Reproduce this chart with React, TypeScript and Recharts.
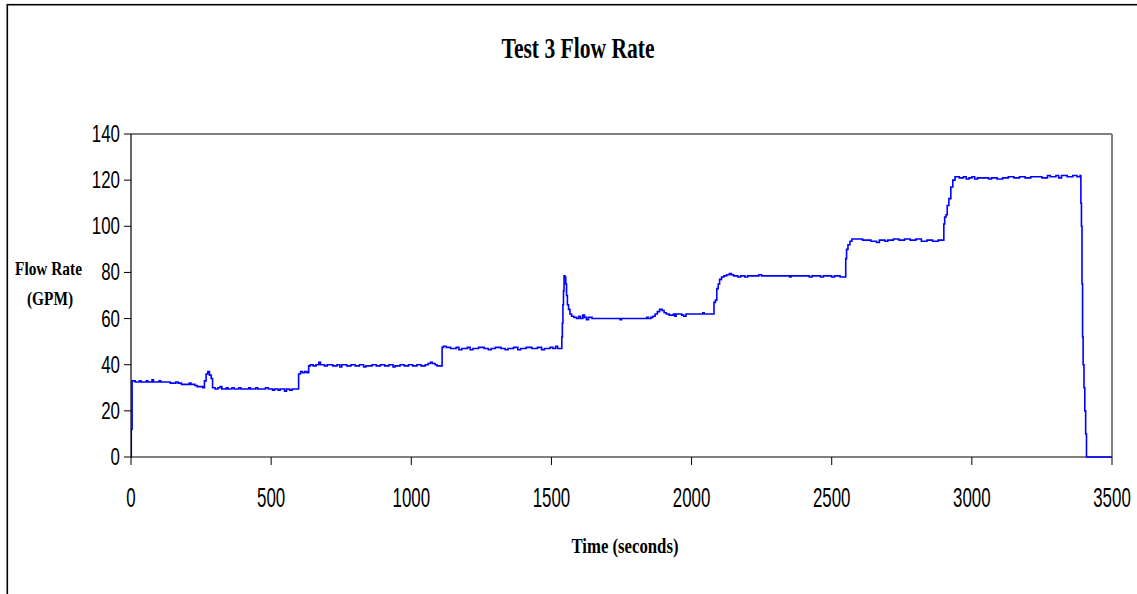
import React from "react";
import { LineChart, Line, XAxis, YAxis, ReferenceLine } from "recharts";

// [time (s), flow rate (GPM)] readings, grouped by test stage
const stageStart: [number, number][] = [
  [0, 0], [1, 12], [4, 33], [15, 32.5], [30, 33], [36, 32.5], [55, 33], [60, 32.5], [75, 33.5], [80, 32.5],
  [100, 33], [106, 32.5], [125, 32.5], [140, 32], [160, 32.5], [168, 32], [180, 31.5], [200, 31.5], [208, 32],
  [214, 31.5], [228, 31], [236, 30.5], [250, 30.5], [256, 30], [262, 33], [268, 36], [274, 37], [280, 35.5],
  [286, 34], [291, 30], [300, 29.5], [310, 30], [318, 30.5], [324, 29.5], [340, 30], [346, 29.5], [360, 30],
  [368, 29.5], [385, 30], [392, 29.5], [410, 29.5], [420, 30], [426, 29.5], [445, 30], [452, 29.5], [470, 29.5],
  [480, 30], [490, 29.5], [505, 29], [512, 29.5], [525, 29], [532, 29.5], [548, 28.5], [555, 29.5], [566, 29],
  [575, 29.5], [590, 29.5],
];
const stage40: [number, number][] = [
  [598, 36], [605, 37], [612, 36.5], [620, 37], [628, 36.5], [634, 39.5], [640, 40], [650, 39.5], [660, 40],
  [670, 41], [676, 40], [690, 39.5], [700, 40], [720, 39.5], [735, 40], [745, 39], [752, 40], [770, 39.5],
  [785, 40], [800, 39.5], [815, 40], [830, 39], [838, 39.5], [860, 40], [875, 39.5], [890, 40], [905, 39.5],
  [920, 40], [935, 39], [942, 39.5], [960, 40], [975, 39.5], [990, 40], [1005, 39.5], [1020, 40], [1035, 39.5],
  [1050, 40], [1060, 40.5], [1068, 41], [1075, 40.5], [1085, 40], [1092, 39.5], [1108, 39.5],
];
const stage47: [number, number][] = [
  [1110, 47.5], [1115, 48], [1125, 47.5], [1140, 47], [1160, 47.5], [1170, 46.5], [1180, 47], [1200, 47.5],
  [1210, 46.5], [1220, 47], [1240, 47.5], [1260, 47], [1275, 46.5], [1285, 47], [1300, 47.5], [1320, 47],
  [1335, 46.5], [1345, 47], [1365, 47.5], [1380, 46.5], [1390, 47], [1410, 47.5], [1430, 47], [1450, 47.5],
  [1465, 46.5], [1475, 47], [1495, 47.5], [1505, 47], [1515, 48], [1522, 47], [1536, 47],
];
const stage60: [number, number][] = [
  [1537, 52], [1539, 58], [1541, 66], [1543, 72], [1545, 78.5], [1548, 78], [1551, 75], [1554, 70], [1557, 66],
  [1561, 64], [1566, 62], [1572, 61], [1580, 60.5], [1590, 60], [1598, 61], [1604, 60], [1612, 61.5],
  [1618, 60.5], [1625, 59.5], [1632, 60.5], [1645, 60], [1700, 60], [1740, 60], [1745, 59.5], [1750, 60],
  [1800, 60], [1840, 60.5], [1846, 60], [1855, 60.5], [1862, 61], [1870, 62], [1878, 63], [1886, 64],
  [1895, 63.5], [1902, 62.5], [1910, 62], [1920, 61.5], [1935, 62], [1940, 61], [1945, 62], [1965, 61.5],
  [1972, 61], [1980, 62], [2000, 62], [2030, 62], [2040, 62.5], [2045, 62], [2078, 62],
];
const stage78: [number, number][] = [
  [2080, 67], [2085, 68], [2090, 73], [2095, 75], [2100, 77], [2107, 78], [2115, 78.5], [2125, 79],
  [2135, 79.5], [2142, 79], [2150, 78.5], [2165, 78], [2175, 78.5], [2190, 78], [2200, 78.5], [2240, 79],
  [2250, 78.5], [2340, 78.5], [2350, 78], [2355, 78.5], [2400, 78.5], [2420, 78], [2430, 78.5], [2460, 78],
  [2470, 78.5], [2500, 78], [2510, 78.5], [2530, 78], [2547, 78],
];
const stage94: [number, number][] = [
  [2550, 86], [2553, 90], [2558, 92], [2565, 93.5], [2572, 94.5], [2590, 94.5], [2610, 94], [2630, 94],
  [2640, 93.5], [2660, 93], [2670, 94], [2690, 93.5], [2700, 94], [2720, 94.5], [2740, 94], [2760, 94.5],
  [2780, 94], [2800, 94.5], [2820, 93.5], [2840, 94], [2860, 93.5], [2880, 94], [2898, 94],
];
const stage121: [number, number][] = [
  [2900, 101], [2903, 104], [2908, 105], [2912, 109], [2918, 112], [2925, 117], [2932, 120], [2940, 121.5],
  [2955, 121], [2970, 121.5], [2980, 120.5], [2990, 121], [3000, 121.5], [3010, 120.5], [3020, 121],
  [3040, 121], [3060, 120.5], [3070, 121], [3090, 120.5], [3110, 121], [3130, 121.5], [3150, 121],
  [3170, 121.5], [3190, 121], [3210, 121.5], [3250, 121], [3270, 122], [3280, 121.5], [3300, 122],
  [3310, 121], [3320, 122], [3340, 121.5], [3360, 122], [3375, 121.5], [3386, 122],
];
const stageShutdown: [number, number][] = [
  [3389, 110], [3391, 100], [3393, 75], [3395, 52], [3397, 40], [3400, 30], [3403, 20], [3406, 10],
  [3409, 0], [3500, 0],
];

const xTicks = [0, 500, 1000, 1500, 2000, 2500, 3000, 3500];
const yTicks = [0, 20, 40, 60, 80, 100, 120, 140];

const data = [
  ...stageStart, ...stage40, ...stage47, ...stage60, ...stage78, ...stage94, ...stage121, ...stageShutdown,
].map(([t, flow]) => ({ t, flow }));

const SANS = "'Liberation Sans Narrow', 'Liberation Sans', Arial, sans-serif";
const SERIF = "'Liberation Serif', 'Times New Roman', serif";

const XTick = (props: any) => {
  const { x, y, payload } = props;
  const s = String(payload.value);
  return (
    <text x={x} y={y + 40} textAnchor="middle" fontSize={27} fontFamily={SANS} fill="#000"
      textLength={s.length * 9.4} lengthAdjust="spacingAndGlyphs">
      {s}
    </text>
  );
};

const YTick = (props: any) => {
  const { x, y, payload } = props;
  const s = String(payload.value);
  return (
    <text x={x} y={y + 8} textAnchor="end" fontSize={23} fontFamily={SANS} fill="#000"
      textLength={s.length * 9.4} lengthAdjust="spacingAndGlyphs">
      {s}
    </text>
  );
};

export default function App() {
  return (
    <div style={{ position: "absolute", left: 0, top: 0, width: 1137, height: 594, background: "#fff", overflow: "hidden" }}>
      <LineChart width={1137} height={594} data={data} margin={{ top: 134, right: 25, left: 0, bottom: 0 }}>
        <XAxis dataKey="t" type="number" domain={[0, 3500]} ticks={xTicks} height={137} tickSize={8}
          tickMargin={2} axisLine={false} tickLine={{ stroke: "#000" }}
          tick={<XTick />} interval={0} allowDataOverflow />
        <YAxis type="number" domain={[0, 140]} ticks={yTicks} width={131} tickSize={7} tickMargin={4}
          axisLine={{ stroke: "#000", strokeWidth: 1.2 }} tickLine={{ stroke: "#000" }} tick={<YTick />} interval={0} />
        <ReferenceLine y={0} stroke="#808080" strokeWidth={2} />
        <ReferenceLine y={140} stroke="#808080" strokeWidth={2} />
        <ReferenceLine x={3500} stroke="#808080" strokeWidth={2} />
        <Line type="stepAfter" dataKey="flow" stroke="#0000FF" strokeWidth={1.6} dot={false} isAnimationActive={false} />
      </LineChart>
      <svg width={1137} height={594} style={{ position: "absolute", left: 0, top: 0, pointerEvents: "none" }}>
        <rect x={7.3} y={4.7} width={1200} height={700} fill="none" stroke="#000" strokeWidth={1.6} />
        <text x={578} y={58} textAnchor="middle" fontSize={30} fontWeight="bold" fontFamily={SERIF}
          textLength={153} lengthAdjust="spacingAndGlyphs">Test 3 Flow Rate</text>
        <text x={48.5} y={275} textAnchor="middle" fontSize={19} fontWeight="bold" fontFamily={SERIF}
          textLength={67} lengthAdjust="spacingAndGlyphs">Flow Rate</text>
        <text x={50} y={305} textAnchor="middle" fontSize={19} fontWeight="bold" fontFamily={SERIF}
          textLength={46} lengthAdjust="spacingAndGlyphs">(GPM)</text>
        <text x={625} y={553} textAnchor="middle" fontSize={21} fontWeight="bold" fontFamily={SERIF}
          textLength={107} lengthAdjust="spacingAndGlyphs">Time (seconds)</text>
      </svg>
    </div>
  );
}
